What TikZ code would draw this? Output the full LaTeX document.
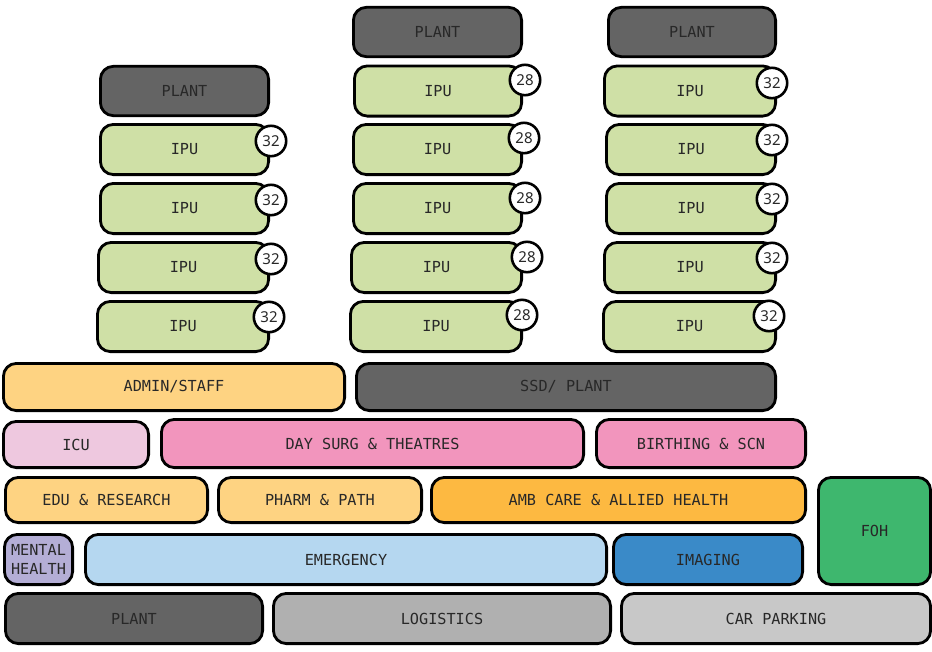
\documentclass[tikz,border=0pt]{standalone}
\usepackage{fontspec}
\setmonofont{DejaVu Sans Mono}
\newfontfamily\badgefont{Noto Sans}
\usepackage{tikz}
\usetikzlibrary{positioning}
\definecolor{plant}{RGB}{100,100,100}
\definecolor{ipu}{RGB}{207,224,166}
\definecolor{admin}{RGB}{254,211,130}
\definecolor{icu}{RGB}{238,200,223}
\definecolor{surg}{RGB}{242,149,189}
\definecolor{amb}{RGB}{253,185,65}
\definecolor{foh}{RGB}{62,183,110}
\definecolor{mental}{RGB}{180,174,214}
\definecolor{emerg}{RGB}{181,215,240}
\definecolor{imaging}{RGB}{58,138,200}
\definecolor{logist}{RGB}{176,176,176}
\definecolor{carpark}{RGB}{200,200,200}
\definecolor{txt}{RGB}{40,40,40}

\begin{document}
\begin{tikzpicture}[x=1pt, y=-1pt,
  room/.style={draw=black, line width=2.8pt, rounded corners=13pt, inner sep=0pt,
    text=txt, font=\ttfamily\fontsize{15.2}{18.5}\selectfont, align=center},
  floor/.style={room, minimum height=#1},
  floor/.default=50.2,
  badge/.style={circle, draw=black, fill=white, line width=2.6pt, minimum size=30.4pt,
    inner sep=0pt, text=txt, font=\badgefont\fontsize{15}{15}\selectfont}]

\useasboundingbox (0,0) rectangle (932,651);

% left tower
\node [floor=49.4, fill=plant, minimum width=168.2] (plantA) at (184.5,91) {PLANT};
\node [floor, fill=ipu, minimum width=168.2] (ipuA1) at (184.5,149.5) {IPU};
\node [floor, fill=ipu, minimum width=168.2] (ipuA2) at (184.5,208.5) {IPU};
\node [floor, fill=ipu, minimum width=170.2] (ipuA3) at (183.5,267.5) {IPU};
\node [floor, fill=ipu, minimum width=171.2] (ipuA4) at (183,326.5) {IPU};
\node [badge] (bA1) at (271,141) {32};
\node [badge] (bA2) at (271,200) {32};
\node [badge] (bA3) at (271,259) {32};
\node [badge] (bA4) at (269,317) {32};

% middle tower
\node [floor=49.4, fill=plant, minimum width=168.2] (plantB) at (437.5,32) {PLANT};
\node [floor, fill=ipu, minimum width=167.2] (ipuB1) at (438,91) {IPU};
\node [floor, fill=ipu, minimum width=168.2] (ipuB2) at (437.5,149.5) {IPU};
\node [floor, fill=ipu, minimum width=168.2] (ipuB3) at (437.5,208.5) {IPU};
\node [floor, fill=ipu, minimum width=170.2] (ipuB4) at (436.5,267.5) {IPU};
\node [floor, fill=ipu, minimum width=171.2] (ipuB5) at (436,326.5) {IPU};
\node [badge] (bB1) at (525,80) {28};
\node [badge] (bB2) at (524,138) {28};
\node [badge] (bB3) at (525,198) {28};
\node [badge] (bB4) at (527,257) {28};
\node [badge] (bB5) at (522,315) {28};

% right tower
\node [floor=49.4, fill=plant, minimum width=167.2] (plantC) at (692,32) {PLANT};
\node [floor, fill=ipu, minimum width=171.2] (ipuC1) at (690,91) {IPU};
\node [floor, fill=ipu, minimum width=169.2] (ipuC2) at (691,149.5) {IPU};
\node [floor, fill=ipu, minimum width=169.2] (ipuC3) at (691,208.5) {IPU};
\node [floor, fill=ipu, minimum width=171.2] (ipuC4) at (690,267.5) {IPU};
\node [floor, fill=ipu, minimum width=172.2] (ipuC5) at (689.5,326.5) {IPU};
\node [badge] (bC1) at (772,83) {32};
\node [badge] (bC2) at (772,140) {32};
\node [badge] (bC3) at (772,199) {32};
\node [badge] (bC4) at (772,258) {32};
\node [badge] (bC5) at (769,316) {32};

% podium
\node [floor=47.2, fill=admin, minimum width=341.2] (admin) at (174,387) {ADMIN/STAFF};
\node [floor=47.2, fill=plant, minimum width=419.2] (ssd) at (566,387) {SSD/ PLANT};

\node [floor=46.2, fill=icu, minimum width=145.2] (icu) at (76,444.5) {ICU};
\node [floor=48.2, fill=surg, minimum width=422.2] (daysurg) at (372.5,443.5) {DAY SURG \& THEATRES};
\node [floor=48.2, fill=surg, minimum width=209.2] (birth) at (701,443.5) {BIRTHING \& SCN};

\node [floor=45.2, fill=admin, minimum width=202.2] (edu) at (106.5,500) {EDU \& RESEARCH};
\node [floor=45.2, fill=admin, minimum width=203.2] (pharm) at (320,500) {PHARM \& PATH};
\node [floor=45.2, fill=amb, minimum width=374.2] (ambcare) at (618.5,500) {AMB CARE \& ALLIED HEALTH};
\node [floor=107.2, fill=foh, minimum width=112.2] (foh) at (874.5,531) {FOH};

\node [floor, fill=mental, minimum width=68.2] (mental) at (38.5,559.5) {MENTAL\\HEALTH};
\node [floor, fill=emerg, minimum width=521.2] (emerg) at (346,559.5) {EMERGENCY};
\node [floor, fill=imaging, minimum width=189.2] (imaging) at (708,559.5) {IMAGING};

\node [floor, fill=plant, minimum width=257.2] (plantD) at (134,618.5) {PLANT};
\node [floor, fill=logist, minimum width=337.2] (logistics) at (442,618.5) {LOGISTICS};
\node [floor, fill=carpark, minimum width=309.2] (carpark) at (776,618.5) {CAR PARKING};

\end{tikzpicture}
\end{document}
